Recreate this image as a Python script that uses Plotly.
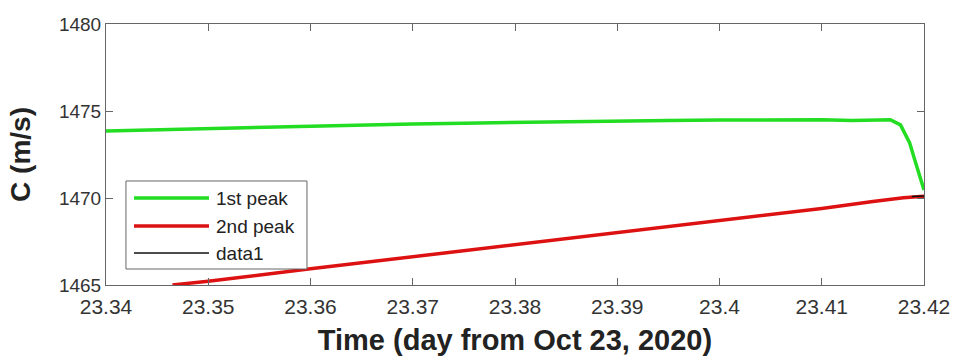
import plotly.graph_objects as go

# ---- data ----
t_first = [23.34, 23.345, 23.35, 23.355, 23.36, 23.365, 23.37, 23.375, 23.38, 23.385,
           23.39, 23.395, 23.40, 23.405, 23.41, 23.413, 23.415, 23.4167, 23.4177,
           23.4186, 23.4191, 23.4196, 23.42]
c_first = [1473.85, 1473.92, 1473.98, 1474.05, 1474.15, 1474.2, 1474.26, 1474.3, 1474.35, 1474.38,
           1474.42, 1474.45, 1474.48, 1474.5, 1474.5, 1474.45, 1474.45, 1474.5, 1474.2,
           1473.16, 1472.18, 1471.2, 1470.46]

t_second = [23.3465, 23.35, 23.36, 23.37, 23.38, 23.39, 23.40, 23.41, 23.415, 23.418, 23.42]
c_second = [1465.0, 1465.22, 1465.93, 1466.62, 1467.31, 1468.0, 1468.7, 1469.4, 1469.8, 1470.02, 1470.1]

t_data1 = [23.4188, 23.42]
c_data1 = [1470.08, 1470.12]

series_names = ["1st peak", "2nd peak", "data1"]
series_colors = ["#22dd22", "#dd1111", "#111111"]
series_widths = [3.5, 3.5, 1.5]

x_ticks = [23.34, 23.35, 23.36, 23.37, 23.38, 23.39, 23.40, 23.41, 23.42]
x_tick_text = ["23.34", "23.35", "23.36", "23.37", "23.38", "23.39", "23.4", "23.41", "23.42"]
y_ticks = [1465, 1470, 1475, 1480]

FONT = "Liberation Sans, Arial"

fig = go.Figure()
for tx, cy, nm, col, w in zip([t_first, t_second, t_data1], [c_first, c_second, c_data1],
                              series_names, series_colors, series_widths):
    fig.add_trace(go.Scatter(x=tx, y=cy, mode="lines", name=nm,
                             line=dict(color=col, width=w), showlegend=False))

# ---- legend box drawn inside the axes (MATLAB style) ----
shapes = [dict(type="rect", xref="paper", yref="paper", x0=0.0244, x1=0.2457, y0=0.0613, y1=0.3985,
               fillcolor="white", line=dict(color="#666666", width=1), layer="above")]
annotations = []
entry_y = [0.3333, 0.226, 0.1226]
for nm, col, w, yy in zip(series_names, series_colors, series_widths, entry_y):
    shapes.append(dict(type="line", xref="paper", yref="paper", x0=0.0342, x1=0.1259, y0=yy, y1=yy,
                       line=dict(color=col, width=w), layer="above"))
    annotations.append(dict(xref="paper", yref="paper", x=0.1320, y=yy, text=nm, showarrow=False,
                            xanchor="left", yanchor="middle",
                            font=dict(family=FONT, size=19, color="#222222")))

axis_common = dict(showgrid=False, zeroline=False, showline=True, linecolor="#666666",
                   linewidth=1, mirror="ticks", ticks="inside", ticklen=7, tickcolor="#666666",
                   automargin=False)

fig.update_layout(
    width=955, height=358,
    margin=dict(l=106, r=31, t=24, b=73),
    paper_bgcolor="white", plot_bgcolor="white",
    showlegend=False,
    shapes=shapes, annotations=annotations,
)
fig.update_xaxes(range=[23.34, 23.42], tickvals=x_ticks, ticktext=x_tick_text,
                 tickfont=dict(family=FONT, size=21, color="#333333"), ticklabelstandoff=3,
                 title=dict(text="<b>Time (day from Oct 23, 2020)</b>", standoff=12,
                            font=dict(family=FONT, size=29, color="#222222")),
                 **axis_common)
fig.update_yaxes(range=[1465, 1480], tickvals=y_ticks,
                 tickfont=dict(family=FONT, size=19, color="#333333"),
                 title=dict(text="<b>C (m/s)</b>", standoff=20,
                            font=dict(family=FONT, size=28, color="#222222")),
                 **axis_common)

fig.write_html("out.html")
